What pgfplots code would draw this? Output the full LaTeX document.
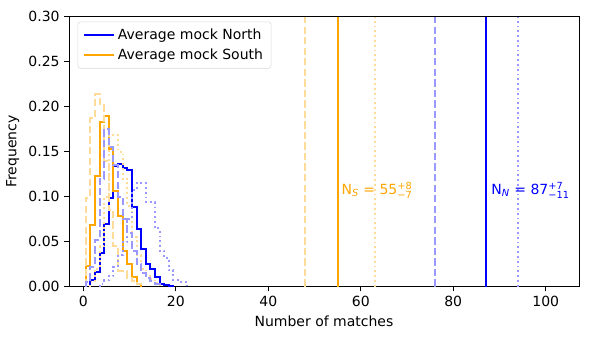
\documentclass[border=0pt]{standalone}
\usepackage{amsmath}
\usepackage{fontspec}
\setmainfont{DejaVu Sans}
\usepackage{pgfplots}
\pgfplotsset{compat=1.18}
\definecolor{mplblue}{RGB}{0,0,255}
\definecolor{mplorange}{RGB}{255,165,0}

% histogram bins: x = left edge of bin (bins of width 1 centred on integers)
\pgfplotstableread{
x y
0.5 0
0.5 0.023
1.5 0.068
2.5 0.123
3.5 0.183
4.5 0.190
5.5 0.153
6.5 0.106
7.5 0.078
8.5 0.040
9.5 0.025
10.5 0.011
11.5 0.003
12.5 0
}\southmean
\pgfplotstableread{
x y
1.5 0
1.5 0.007
2.5 0.016
3.5 0.037
4.5 0.070
5.5 0.099
6.5 0.134
7.5 0.136
8.5 0.132
9.5 0.130
10.5 0.089
11.5 0.064
12.5 0.042
13.5 0.025
14.5 0.020
15.5 0.011
16.5 0.003
17.5 0.002
18.5 0.001
19.5 0
}\northmean
\pgfplotstableread{
x y
0.5 0
0.5 0.099
1.5 0.187
2.5 0.214
3.5 0.203
4.5 0.140
5.5 0.085
6.5 0.045
7.5 0.017
8.5 0.017
9.5 0.010
10.5 0.006
11.5 0.003
12.5 0
}\southlow
\pgfplotstableread{
x y
1.5 0
1.5 0.005
2.5 0.020
3.5 0.045
4.5 0.100
5.5 0.168
6.5 0.168
7.5 0.150
8.5 0.120
9.5 0.090
10.5 0.055
11.5 0.035
12.5 0.020
13.5 0.012
14.5 0.008
15.5 0.004
16.5 0
}\southhigh
\pgfplotstableread{
x y
0.5 0
0.5 0.005
1.5 0.022
2.5 0.052
3.5 0.120
4.5 0.175
5.5 0.155
6.5 0.135
7.5 0.100
8.5 0.075
9.5 0.060
10.5 0.040
11.5 0.025
12.5 0.015
13.5 0.010
14.5 0.006
15.5 0.003
16.5 0
}\northlow
\pgfplotstableread{
x y
3.5 0
3.5 0.003
4.5 0.007
5.5 0.012
6.5 0.022
7.5 0.035
8.5 0.050
9.5 0.075
10.5 0.107
11.5 0.115
12.5 0.115
13.5 0.094
14.5 0.094
15.5 0.065
16.5 0.040
17.5 0.032
18.5 0.018
19.5 0.007
20.5 0.005
21.5 0.005
22.5 0
}\northhigh

\begin{document}
\begin{tikzpicture}
\begin{axis}[scale only axis,
width=382.5pt,
height=202.5pt,
xmin=-3.1, xmax=107.2,
ymin=0, ymax=0.3,
xtick={0,20,40,60,80,100},
ytick={0,0.05,0.1,0.15,0.2,0.25,0.3},
yticklabel style={/pgf/number format/.cd,fixed,fixed zerofill,precision=2},
/pgf/number format/assume math mode=true,
tick align=outside,
tick pos=left,
major tick length=3.5pt,
tick style={black, line width=0.6pt},
axis line style={line width=0.6pt},
tick label style={font=\fontsize{10.5}{12.5}\selectfont},
label style={font=\fontsize{10.5}{12.5}\selectfont},
xlabel={Number of matches},
ylabel={Frequency},
legend style={at={(0.017,0.982)},anchor=north west,draw=black!15,rounded corners=2pt,
  font=\fontsize{10.5}{12.5}\selectfont,inner xsep=4pt,inner ysep=3pt,row sep=2pt},
legend cell align=left,
legend image code/.code={\draw[#1,sharp plot] (0pt,0pt) -- (22.5pt,0pt);},
const plot]
\addplot[mplblue, line width=1.5pt] table {\northmean};
\addlegendentry{Average mock North}
\addplot[mplorange, line width=1.5pt] table {\southmean};
\addlegendentry{Average mock South}
\addplot[mplorange!40, line width=1.5pt, dash pattern=on 5.5pt off 2.4pt, forget plot] table {\southlow};
\addplot[mplorange!40, line width=1.5pt, dash pattern=on 1.4pt off 2.2pt, forget plot] table {\southhigh};
\addplot[mplblue!40, line width=1.5pt, dash pattern=on 5.5pt off 2.4pt, forget plot] table {\northlow};
\addplot[mplblue!40, line width=1.5pt, dash pattern=on 1.4pt off 2.2pt, forget plot] table {\northhigh};
% measured values with uncertainties
\addplot[mplorange, line width=1.5pt, sharp plot, forget plot] coordinates {(55,0) (55,0.3)};
\addplot[mplorange!40, line width=1.5pt, sharp plot, dash pattern=on 5.5pt off 2.4pt, forget plot] coordinates {(48,0) (48,0.3)};
\addplot[mplorange!40, line width=1.5pt, sharp plot, dash pattern=on 1.4pt off 2.2pt, forget plot] coordinates {(63,0) (63,0.3)};
\addplot[mplblue, line width=1.5pt, sharp plot, forget plot] coordinates {(87,0) (87,0.3)};
\addplot[mplblue!40, line width=1.5pt, sharp plot, dash pattern=on 5.5pt off 2.4pt, forget plot] coordinates {(76,0) (76,0.3)};
\addplot[mplblue!40, line width=1.5pt, sharp plot, dash pattern=on 1.4pt off 2.2pt, forget plot] coordinates {(94,0) (94,0.3)};
\node[anchor=west, inner sep=0pt, text=mplorange, font=\fontsize{10.5}{12}\selectfont] at (axis cs:55.8,0.107) {N$_{\textit{S}}$ = 55$^{\text{+8}}_{\text{−7}}$};
\node[anchor=west, inner sep=0pt, text=mplblue, font=\fontsize{10.5}{12}\selectfont] at (axis cs:88.2,0.107) {N$_{\textit{N}}$ = 87$^{\text{+7}}_{\text{−11}}$};
\end{axis}
\pgfresetboundingbox
\useasboundingbox (-51.75pt,-39.2pt) rectangle (390.75pt,215pt);
\end{tikzpicture}
\end{document}
